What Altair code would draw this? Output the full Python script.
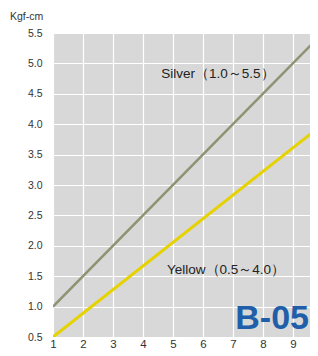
import altair as alt
import pandas as pd

series = ["Silver", "Silver", "Yellow", "Yellow"]
xs = [1, 10, 1, 10]
ys = [1.0, 5.5, 0.5, 4.0]
y_ticks = [0.5, 1.0, 1.5, 2.0, 2.5, 3.0, 3.5, 4.0, 4.5, 5.0, 5.5]
x_ticks = [1, 2, 3, 4, 5, 6, 7, 8, 9]

ann_text = ["Silver（1.0～5.5）", "Yellow（0.5～4.0）"]
ann_x = [6.5, 6.77]
ann_y = [4.83, 1.6]

df = pd.DataFrame({"series": series, "x": xs, "y": ys})
ann = pd.DataFrame({"t": ann_text, "x": ann_x, "y": ann_y})
brand = pd.DataFrame({"t": ["B-05"], "x": [9.57], "y": [0.8]})
unit = pd.DataFrame({"t": ["Kgf-cm"]})

xsc = alt.Scale(domain=[1, 9.57], nice=False, zero=False)
ysc = alt.Scale(domain=[0.5, 5.5], nice=False, zero=False)

xax = alt.Axis(values=x_ticks, title=None, domain=False, ticks=False,
               labelFontSize=11.5, labelColor="#333", labelPadding=1,
               labelOverlap=False, labelFlush=False, labelBound=False,
               gridColor="white", gridWidth=1.2, labelFont="Liberation Sans")
yax = alt.Axis(values=y_ticks, format=".1f", title=None, domain=False, ticks=False,
               labelFontSize=10.5, labelColor="#333", labelPadding=11,
               labelOverlap=False, labelFlush=False, labelBound=False,
               gridColor="white", gridWidth=1.2, labelFont="Liberation Sans")

X = alt.X("x:Q", scale=xsc, axis=xax)
Y = alt.Y("y:Q", scale=ysc, axis=yax)

lines = alt.Chart(df).mark_line(clip=True, strokeCap="butt").encode(
    x=X, y=Y,
    color=alt.Color("series:N", scale=alt.Scale(domain=["Silver", "Yellow"], range=["#8e9372", "#e6d200"]), legend=None),
    strokeWidth=alt.StrokeWidth("series:N", scale=alt.Scale(domain=["Silver", "Yellow"], range=[2.5, 3]), legend=None),
)

labels = alt.Chart(ann).mark_text(fontSize=13.5, color="#222", font="Liberation Sans").encode(
    x=X, y=Y, text="t:N")

b05 = alt.Chart(brand).mark_text(fontSize=34, fontWeight="bold", color="#1f5ea8", align="right", dx=-1,
                                 font="Liberation Sans").encode(
    x=X, y=Y, text="t:N")

unit_txt = alt.Chart(unit).mark_text(fontSize=10.5, color="#333", align="left", font="Liberation Sans").encode(
    x=alt.value(-43), y=alt.value(-16), text="t:N")

chart = alt.layer(lines, labels, b05, unit_txt).properties(
    width=257, height=304,
    autosize=alt.AutoSizeParams(type="none"),
    padding={"left": 45, "top": 25, "right": 0, "bottom": 11},
    background="white",
).configure_view(fill="#d8d8d8", stroke=None)

chart.save("out.html", embed_options={"renderer": "svg", "actions": False})
